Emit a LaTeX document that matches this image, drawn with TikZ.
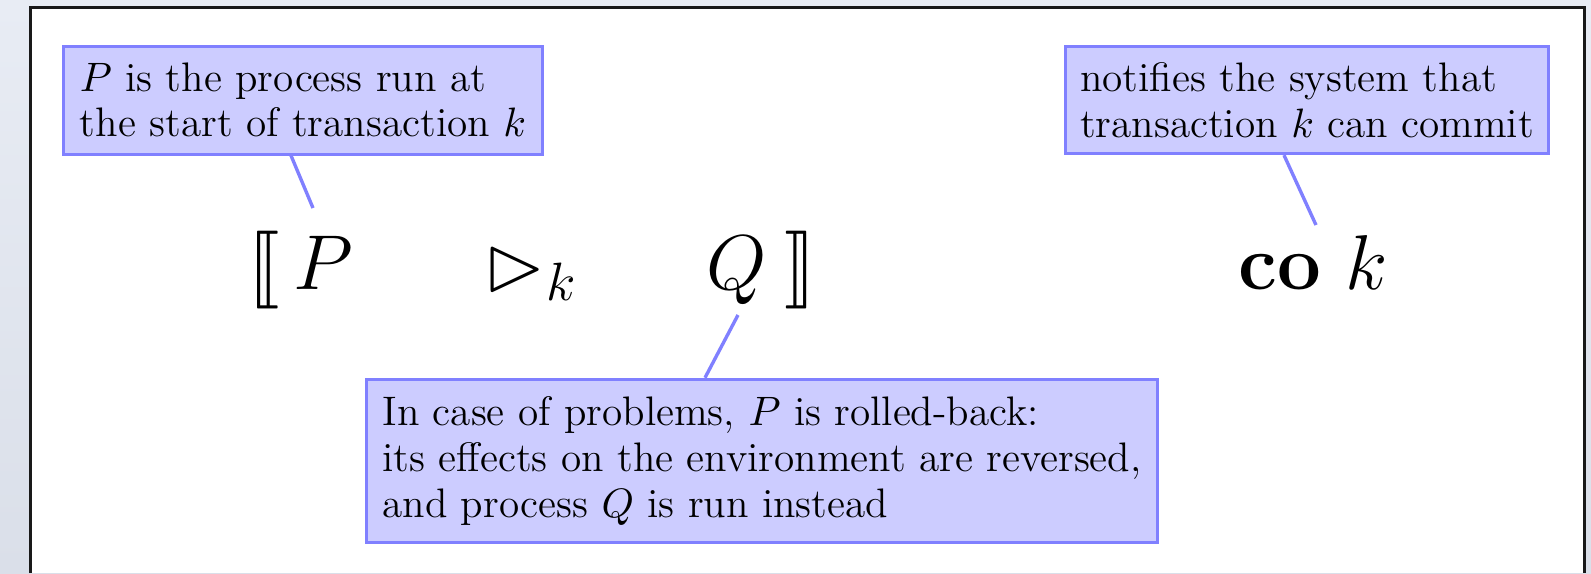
\documentclass[tikz,border=0pt]{standalone}
\usepackage{amssymb}
\usepackage{stmaryrd}
\definecolor{boxfill}{RGB}{204,204,255}
\definecolor{boxline}{RGB}{128,128,255}
\definecolor{bgtop}{RGB}{232,236,244}
\definecolor{bgbot}{RGB}{218,223,233}
\begin{document}
\begin{tikzpicture}[x=0.26667pt,y=-0.26667pt,
  note/.style={draw=boxline,fill=boxfill,line width=0.8pt,align=left,inner sep=3pt,font=\fontsize{11}{12.2}\selectfont},
  conn/.style={draw=boxline,line width=0.9pt},
  mathsym/.style={anchor=base,inner sep=0pt,font=\fontsize{21}{25}\selectfont}]
\useasboundingbox (0,0) rectangle (1591,573);
\shade[top color=bgtop,bottom color=bgbot] (0,0) rectangle (1591,573);
\fill[white] (30,7) rectangle (1584,573);
\draw[line width=0.8pt,black!90] (30,573) -- (30,7) -- (1584,7) -- (1584,573);

% annotation boxes
\node[note,minimum width=127.5pt,minimum height=28.8pt] (b1) at (303,100)
  {$P$ is the process run at\\the start of transaction $k$};
\node[note,minimum width=129pt,minimum height=28.6pt] (b2) at (1307,100)
  {notifies the system that\\transaction $k$ can commit};
\node[note,minimum width=211pt,minimum height=43.6pt] (b3) at (762,461)
  {In case of problems, $P$ is rolled-back:\\its effects on the environment are reversed,\\and process $Q$ is run instead};

% formula
\node[mathsym] (lb) at (264,289) {$\llbracket$};
\node[mathsym] (pp) at (323,289) {$P$};
\node[mathsym] (tr) at (531,289) {$\rhd_k$};
\node[mathsym] (qq) at (737,289) {$Q$};
\node[mathsym] (rb) at (800,289) {$\rrbracket$};
\node[mathsym] (co) at (1313,289) {$\mathbf{co}\ k$};

% connectors
\path (b1.south) ++(-12,0) coordinate (s1);
\coordinate (e1) at (313,208);
\path (b2.south) ++(-23,0) coordinate (s2);
\coordinate (e2) at (1316,225);
\path (b3.north) ++(-57,0) coordinate (s3);
\coordinate (e3) at (738,315);
\draw[conn] (s1) -- (e1);
\draw[conn] (s2) -- (e2);
\draw[conn] (s3) -- (e3);
\end{tikzpicture}
\end{document}
